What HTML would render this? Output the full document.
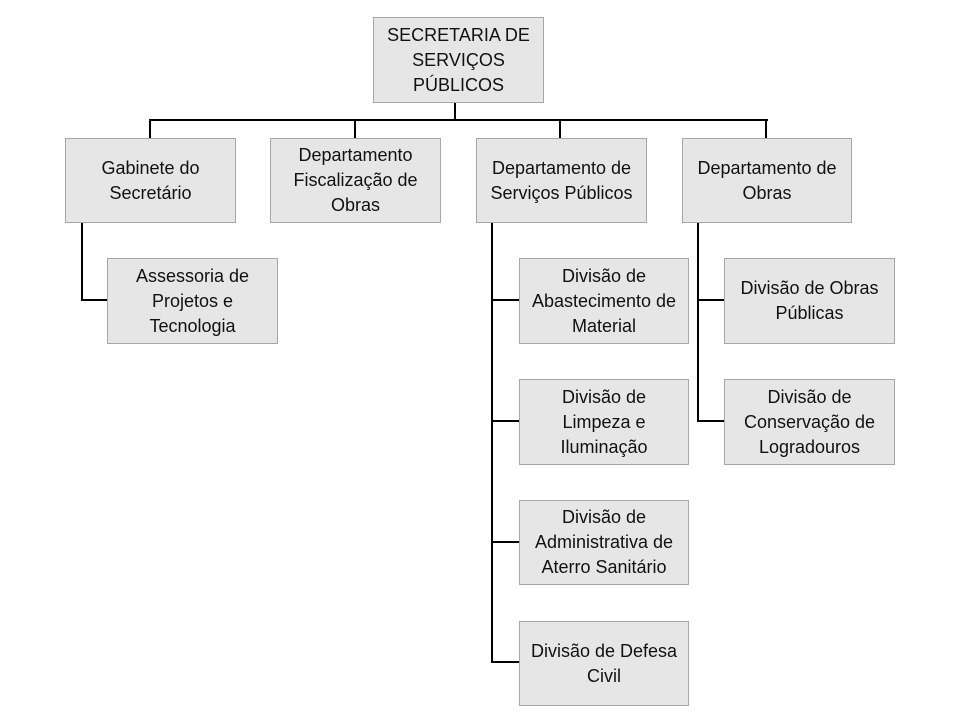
<!DOCTYPE html>
<html><head><meta charset="utf-8"><style>
body{margin:0;width:960px;height:720px;background:#fff;position:relative;overflow:hidden;font-family:"Liberation Sans",sans-serif}
.b{position:absolute;box-sizing:border-box;background:#e6e6e6;border:1.5px solid #a6a6a6;display:flex;align-items:center;justify-content:center;text-align:center;font-size:18px;line-height:25px;color:#111}
.l{position:absolute;background:#000}
</style></head><body>
<div class="l" style="left:454px;top:102px;width:2px;height:18px"></div>
<div class="l" style="left:149px;top:119px;width:619px;height:2px"></div>
<div class="l" style="left:149px;top:119px;width:2px;height:19px"></div>
<div class="l" style="left:354px;top:119px;width:2px;height:19px"></div>
<div class="l" style="left:559px;top:119px;width:2px;height:19px"></div>
<div class="l" style="left:765px;top:119px;width:2px;height:19px"></div>
<div class="l" style="left:81px;top:222px;width:2px;height:79px"></div>
<div class="l" style="left:81px;top:299px;width:26px;height:2px"></div>
<div class="l" style="left:491px;top:222px;width:2px;height:441px"></div>
<div class="l" style="left:491px;top:299px;width:28px;height:2px"></div>
<div class="l" style="left:491px;top:420px;width:28px;height:2px"></div>
<div class="l" style="left:491px;top:541px;width:28px;height:2px"></div>
<div class="l" style="left:491px;top:661px;width:28px;height:2px"></div>
<div class="l" style="left:697px;top:222px;width:2px;height:200px"></div>
<div class="l" style="left:697px;top:299px;width:27px;height:2px"></div>
<div class="l" style="left:697px;top:420px;width:27px;height:2px"></div>
<div class="b" style="left:373px;top:17px;width:171px;height:86px">SECRETARIA DE<br>SERVIÇOS<br>PÚBLICOS</div>
<div class="b" style="left:65px;top:138px;width:171px;height:85px">Gabinete do<br>Secretário</div>
<div class="b" style="left:270px;top:138px;width:171px;height:85px">Departamento<br>Fiscalização de<br>Obras</div>
<div class="b" style="left:476px;top:138px;width:171px;height:85px">Departamento de<br>Serviços Públicos</div>
<div class="b" style="left:682px;top:138px;width:170px;height:85px">Departamento de<br>Obras</div>
<div class="b" style="left:107px;top:258px;width:171px;height:86px">Assessoria de<br>Projetos e<br>Tecnologia</div>
<div class="b" style="left:519px;top:258px;width:170px;height:86px">Divisão de<br>Abastecimento de<br>Material</div>
<div class="b" style="left:519px;top:379px;width:170px;height:86px">Divisão de<br>Limpeza e<br>Iluminação</div>
<div class="b" style="left:519px;top:500px;width:170px;height:85px">Divisão de<br>Administrativa de<br>Aterro Sanitário</div>
<div class="b" style="left:519px;top:621px;width:170px;height:85px">Divisão de Defesa<br>Civil</div>
<div class="b" style="left:724px;top:258px;width:171px;height:86px">Divisão de Obras<br>Públicas</div>
<div class="b" style="left:724px;top:379px;width:171px;height:86px">Divisão de<br>Conservação de<br>Logradouros</div>
</body></html>
